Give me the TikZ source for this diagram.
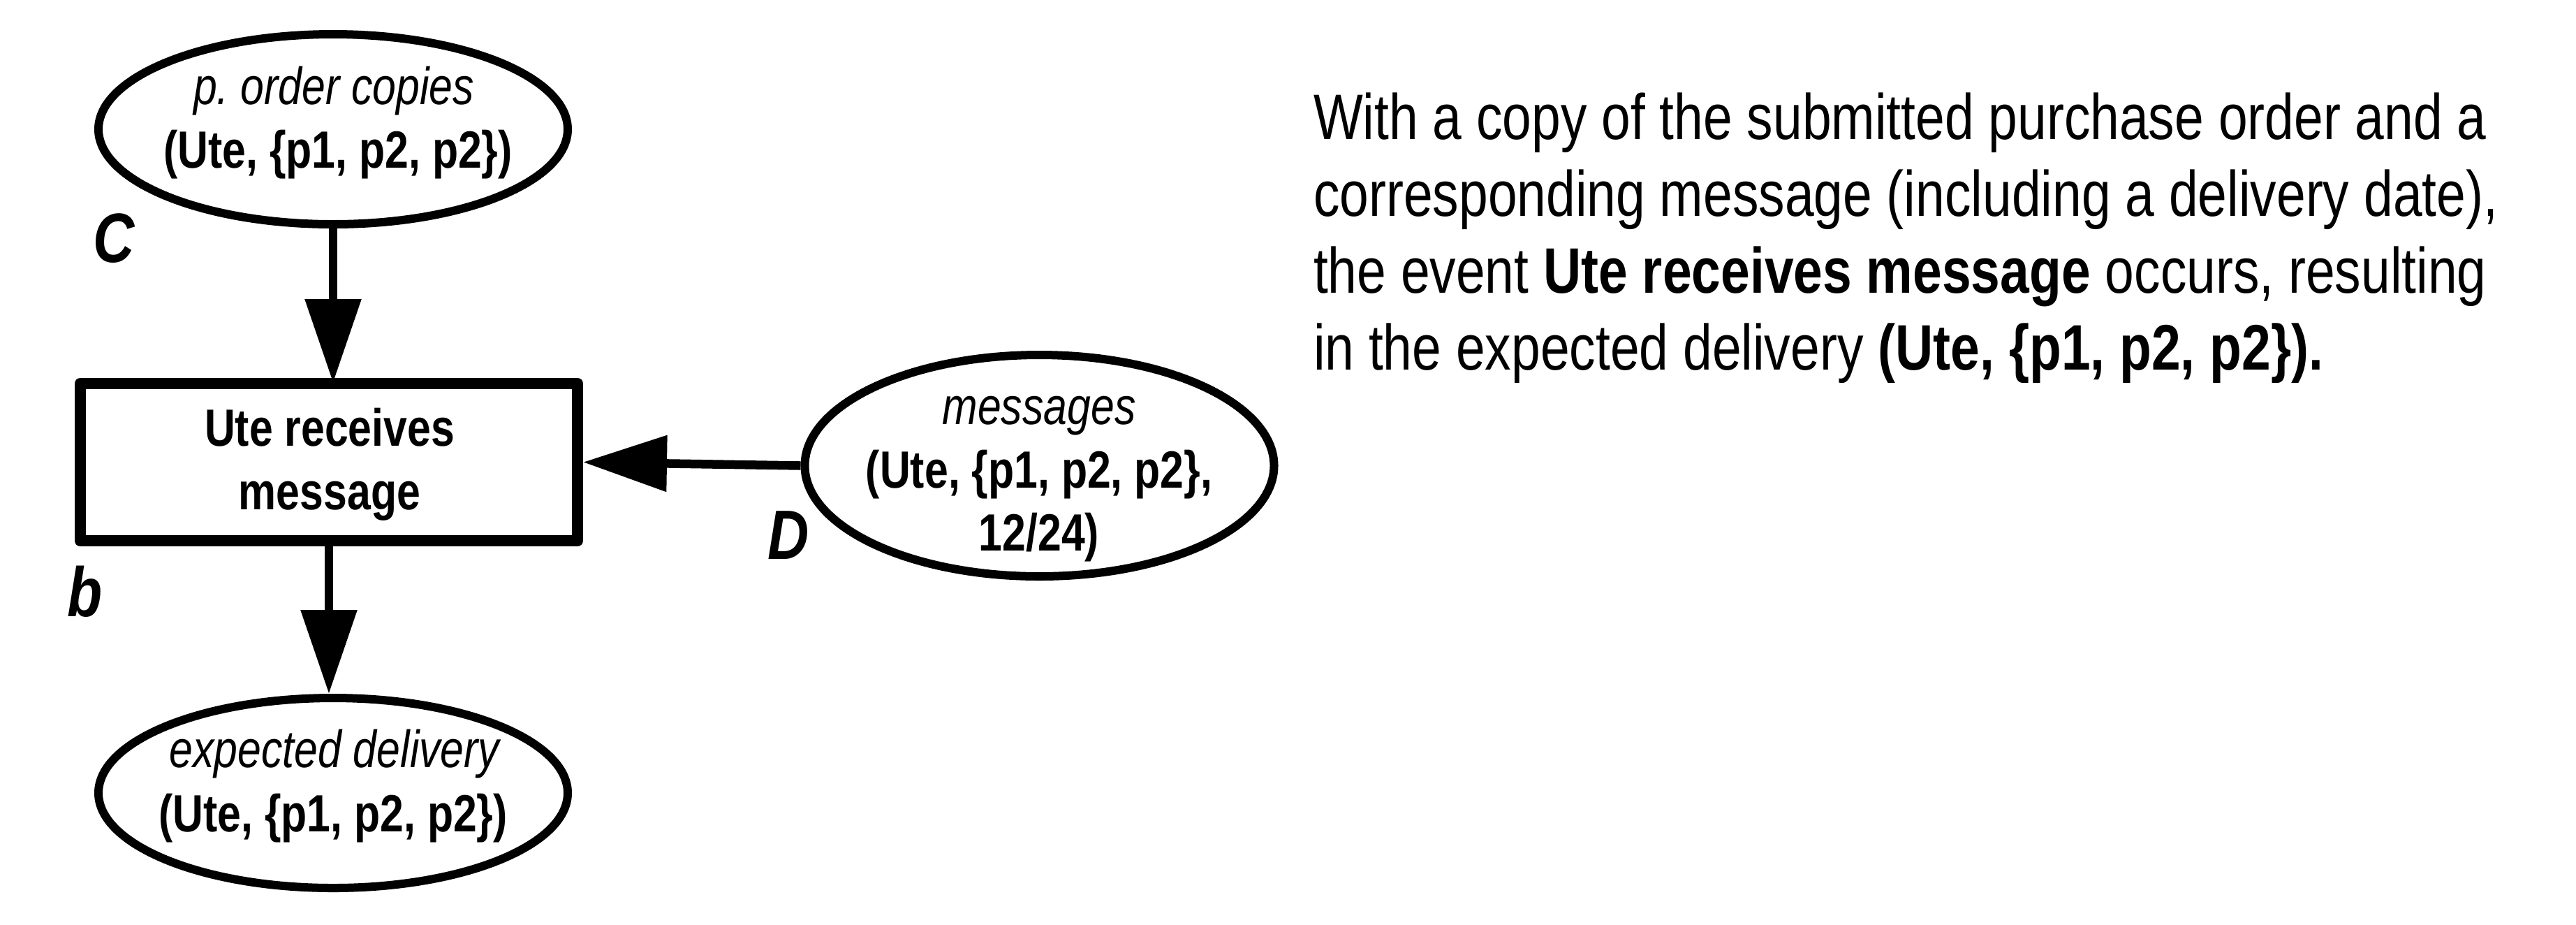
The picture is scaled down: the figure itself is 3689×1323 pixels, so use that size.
\documentclass[tikz,border=0pt]{standalone}
\usepackage{fontspec}
\setmainfont{Liberation Sans}
\newfontfamily\nodefont{Liberation Sans}[FakeStretch=0.81]
\newfontfamily\lblfont{Liberation Sans}[FakeStretch=0.82]
\newfontfamily\parfont{Liberation Sans}[FakeStretch=0.815]
\usetikzlibrary{shapes.geometric,arrows.meta}
\begin{document}
\begin{tikzpicture}[x=0.2pt,y=-0.2pt,
  place/.style={ellipse,draw,line width=2.4pt,minimum width=134.4pt,inner sep=0pt},
  trans/.style={rectangle,draw,line width=3.2pt,minimum width=142.4pt,minimum height=45pt,inner sep=0pt,line join=round},
  arc/.style={line width=2.5pt,-{Triangle[length=24pt,width=15.6pt]}},
  nit/.style={anchor=base,inner sep=0pt,font={\nodefont\fontsize{15pt}{17pt}\selectfont\itshape}},
  nbf/.style={anchor=base,inner sep=0pt,font={\nodefont\fontsize{15pt}{17pt}\selectfont\bfseries}},
  lbl/.style={anchor=base west,inner sep=0pt,font={\lblfont\fontsize{20pt}{24pt}\selectfont\bfseries\itshape}},
  para/.style={anchor=base west,inner sep=0pt,font={\parfont\fontsize{18.4pt}{22pt}\selectfont}}
]
\useasboundingbox (0,0) rectangle (3689,1323);
% places and transition
\node[place,minimum height=54.4pt] (pc) at (477,185) {};
\node[trans] (t) at (471,661.5) {};
\node[place,minimum height=54.4pt] (ed) at (477,1135) {};
\node[place,minimum height=63.4pt] (msg) at (1488.5,666.5) {};
% texts inside
\node[nit] (pc1) at (478,149) {p.\ order copies};
\node[nbf] (pc2) at (484,240) {(Ute, \{p1, p2, p2\})};
\node[nbf] (t1) at (472,638) {Ute receives};
\node[nbf] (t2) at (472,729) {message};
\node[nit] (ed1) at (479,1098) {expected delivery};
\node[nbf] (ed2) at (477,1190) {(Ute, \{p1, p2, p2\})};
\node[nit] (m1) at (1488,607) {messages};
\node[nbf] (m2) at (1488,698) {(Ute, \{p1, p2, p2\},};
\node[nbf] (m3) at (1488,788) {12/24)};
% labels
\node[lbl] (lC) at (132,375) {C};
\node[lbl] (lb) at (95,882) {b};
\node[lbl] (lD) at (1098,800) {D};
% connectors
\draw[arc,shorten >=-1.4pt] (pc.south) -- (pc.south |- t.north);
\draw[arc] (t.south) -- (t.south |- ed.north);
\draw[arc] (msg.west) -- (t.east);
% description
\node[para] (l1) at (1880,199) {With a copy of the submitted purchase order and a};
\node[para] (l2) at (1880,309) {corresponding message (including a delivery date),};
\node[para] (l3) at (1880,419) {the event \textbf{Ute receives message} occurs, resulting};
\node[para] (l4) at (1880,529) {in the expected delivery \textbf{(Ute, \{p1, p2, p2\}).}};
\end{tikzpicture}
\end{document}
